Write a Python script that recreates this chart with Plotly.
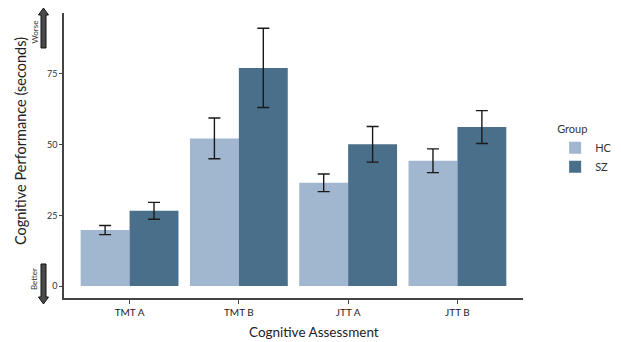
import plotly.graph_objects as go

categories = ["TMT A", "TMT B", "JTT A", "JTT B"]
groups = ["HC", "SZ"]
hc_values = [19.8, 52.2, 36.5, 44.3]
sz_values = [26.6, 77.1, 50.1, 56.2]
hc_errors = [1.6, 7.2, 3.1, 4.2]
sz_errors = [3.0, 14.0, 6.3, 5.8]
y_ticks = [0, 25, 50, 75]

colors = {"HC": "#a1b6cf", "SZ": "#4a6f8b"}
FONT = "Lato"

# the page body has an 8px margin, so the figure is drawn 8px smaller
OFF = 8
W, H = 621 - OFF, 342 - OFF
L, R, T, B = 64 - OFF, 98, 13 - OFF, 44
PW, PH = W - L - R, H - T - B


def px(x):  # page pixel -> paper
    return (x - OFF - L) / PW


def py(y):
    return (H - B - (y - OFF)) / PH


fig = go.Figure()
for name, vals, errs in [("HC", hc_values, hc_errors), ("SZ", sz_values, sz_errors)]:
    fig.add_trace(go.Bar(
        name=name, x=categories, y=vals,
        marker=dict(color=colors[name], line=dict(width=0)),
        error_y=dict(type="data", array=errs, visible=True,
                     color="#1a1a1a", thickness=1.4, width=6),
    ))


def arrow_path(x0, x1, hx0, hx1, tail, base, tip):
    pts = [(x0, tail), (x0, base), (hx0, base), ((x0 + x1) / 2, tip),
           (hx1, base), (x1, base), (x1, tail)]
    return "M " + " L ".join(f"{px(a):.4f},{py(b):.4f}" for a, b in pts) + " Z"


shapes = [
    dict(type="path", xref="paper", yref="paper",
         path=arrow_path(41, 46, 38.5, 48.5, 48, 15, 8),
         fillcolor="#4a4a4a", line=dict(color="#111111", width=1)),
    dict(type="path", xref="paper", yref="paper",
         path=arrow_path(41, 46, 38.5, 48.5, 264, 297, 304),
         fillcolor="#4a4a4a", line=dict(color="#111111", width=1)),
]

annotations = [
    dict(text="Worse", xref="paper", yref="paper", x=px(34.5), y=py(32),
         xanchor="center", yanchor="middle",
         showarrow=False, textangle=-90, font=dict(family=FONT, size=8, color="#333")),
    dict(text="Better", xref="paper", yref="paper", x=px(34), y=py(279),
         xanchor="center", yanchor="middle",
         showarrow=False, textangle=-90, font=dict(family=FONT, size=8, color="#333")),
    dict(text="Cognitive Performance (seconds)", xref="paper", yref="paper",
         x=px(20), y=py(141), xanchor="center", yanchor="middle",
         showarrow=False, textangle=-90, font=dict(family=FONT, size=14.5, color="#222")),
    dict(text="Cognitive Assessment", xref="paper", yref="paper",
         x=px(314), y=py(332), xanchor="center", yanchor="middle",
         showarrow=False, font=dict(family=FONT, size=13.5, color="#222")),
]

fig.update_layout(
    width=W, height=H,
    margin=dict(l=L, r=R, t=T, b=B, autoexpand=False),
    paper_bgcolor="white", plot_bgcolor="white",
    barmode="group", bargap=0.105, bargroupgap=0,
    font=dict(family=FONT, color="#333333"),
    shapes=shapes, annotations=annotations,
    legend=dict(title=dict(text="Group", font=dict(family=FONT, size=11, color="#333333")),
                x=1.07, y=0.628, xanchor="left", yanchor="top",
                font=dict(family=FONT, size=11, color="#333333"), itemwidth=30,
                bgcolor="rgba(0,0,0,0)"),
    xaxis=dict(range=[-0.6, 3.6], showline=True, linecolor="#444", linewidth=1.5,
               ticks="outside", ticklen=4, tickcolor="#444", tickwidth=1,
               tickfont=dict(size=10, color="#222"), showgrid=False, zeroline=False,
               automargin=False),
    yaxis=dict(range=[-4.2, 96.5], showline=True, linecolor="#444", linewidth=1.5,
               tickvals=y_ticks, ticks="outside", ticklen=3, tickcolor="#444",
               tickfont=dict(size=9, color="#333"), showgrid=False, zeroline=False,
               automargin=False),
)

fig.write_html("out.html")
